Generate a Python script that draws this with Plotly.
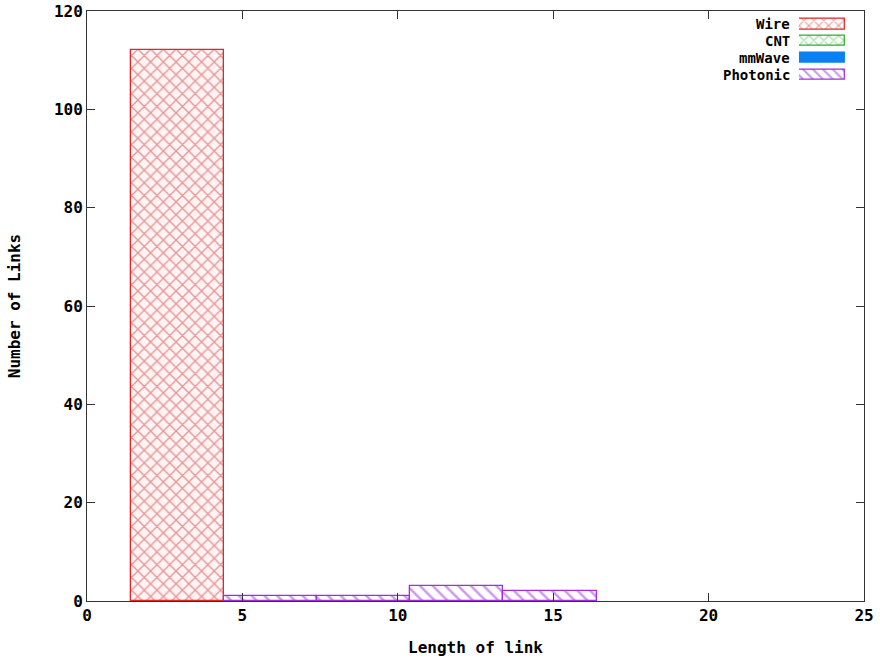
import plotly.graph_objects as go

# data
bin_centers = [2.9, 5.9, 8.9, 11.9, 14.9]
bin_width = 3.0
wire = [112, 0, 0, 0, 0]
cnt = [0, 0, 0, 0, 0]
mmwave = [0, 0, 0, 0, 0]
photonic = [0, 1, 1, 3, 2]
series_names = ["Wire", "CNT", "mmWave", "Photonic"]
colors = ["#e02828", "#2fae2f", "#0a80f5", "#a22ee0"]
hatch_colors = ["#cc3a3a", "#2fae2f", "#0a80f5", "#9a30d8"]
shapes = ["x", "x", "", "\\"]
x_ticks = [0, 5, 10, 15, 20, 25]
y_ticks = [0, 20, 40, 60, 80, 100, 120]

FONT = "DejaVu Sans Mono"
FS = 16
fig = go.Figure()

series_vals = [wire, cnt, mmwave, photonic]
for name, vals, col, hc, shp in zip(series_names, series_vals, colors, hatch_colors, shapes):
    xs = [c for c, v in zip(bin_centers, vals) if v > 0]
    ys = [v for v in vals if v > 0]
    if not xs:
        continue
    fig.add_trace(go.Bar(
        x=xs, y=ys, width=bin_width, name=name, showlegend=False,
        marker=dict(color="white",
                    line=dict(color=col, width=1.3),
                    pattern=dict(shape=shp, fgcolor=hc,
                                 bgcolor="#fff3f3" if shp == "x" else "white",
                                 size=9, solidity=0.28, fillmode="overlay")),
    ))

# legend key drawn as small bars on an overlay axis
key_rows = [3, 2, 1, 0]
for name, col, hc, shp, row in zip(series_names, colors, hatch_colors, shapes, key_rows):
    if shp:
        marker = dict(color="white", line=dict(color=col, width=1.3),
                      pattern=dict(shape=shp, fgcolor=hc, bgcolor="white",
                                   size=7, solidity=0.3, fillmode="overlay"))
    else:
        marker = dict(color=col, line=dict(color=col, width=1.3))
    fig.add_trace(go.Bar(
        x=[1], y=[row], base=[0], orientation="h", width=0.62,
        xaxis="x2", yaxis="y2", showlegend=False, hoverinfo="skip",
        marker=marker,
    ))
    fig.add_annotation(
        x=0.907, xref="paper", xanchor="right",
        y=row, yref="y2", yanchor="middle",
        text="<b>%s</b>" % name, showarrow=False,
        font=dict(family=FONT, size=14, color="black"),
    )

axis_common = dict(
    showgrid=False, zeroline=False, showline=True, linecolor="#333333",
    linewidth=1, mirror="ticks", ticks="inside", ticklen=8,
    tickcolor="#333333", automargin=False,
    tickfont=dict(family=FONT, size=FS, color="black", weight="bold"),
)

fig.update_layout(
    width=880, height=660,
    paper_bgcolor="white", plot_bgcolor="white",
    margin=dict(l=87, r=16, t=11, b=59),
    barmode="overlay", bargap=0,
    showlegend=False,
    xaxis=dict(range=[0, 25], tickvals=x_ticks, **axis_common,
               title=dict(text="<b>Length of link</b>", standoff=17,
                          font=dict(family=FONT, size=FS, color="black"))),
    yaxis=dict(range=[0, 120], tickvals=y_ticks, **axis_common,
               title=dict(text="<b>Number of Links</b>", standoff=29,
                          font=dict(family=FONT, size=FS, color="black"))),
    xaxis2=dict(domain=[0.9163, 0.9755], range=[0, 1], anchor="y2",
                visible=False, fixedrange=True),
    yaxis2=dict(domain=[0.878, 0.992], range=[-0.5, 3.5], anchor="x2",
                visible=False, fixedrange=True),
)

fig.write_html("out.html",
               config={"displayModeBar": False},
               post_script="document.body.style.margin='0';document.body.style.overflow='hidden';")
